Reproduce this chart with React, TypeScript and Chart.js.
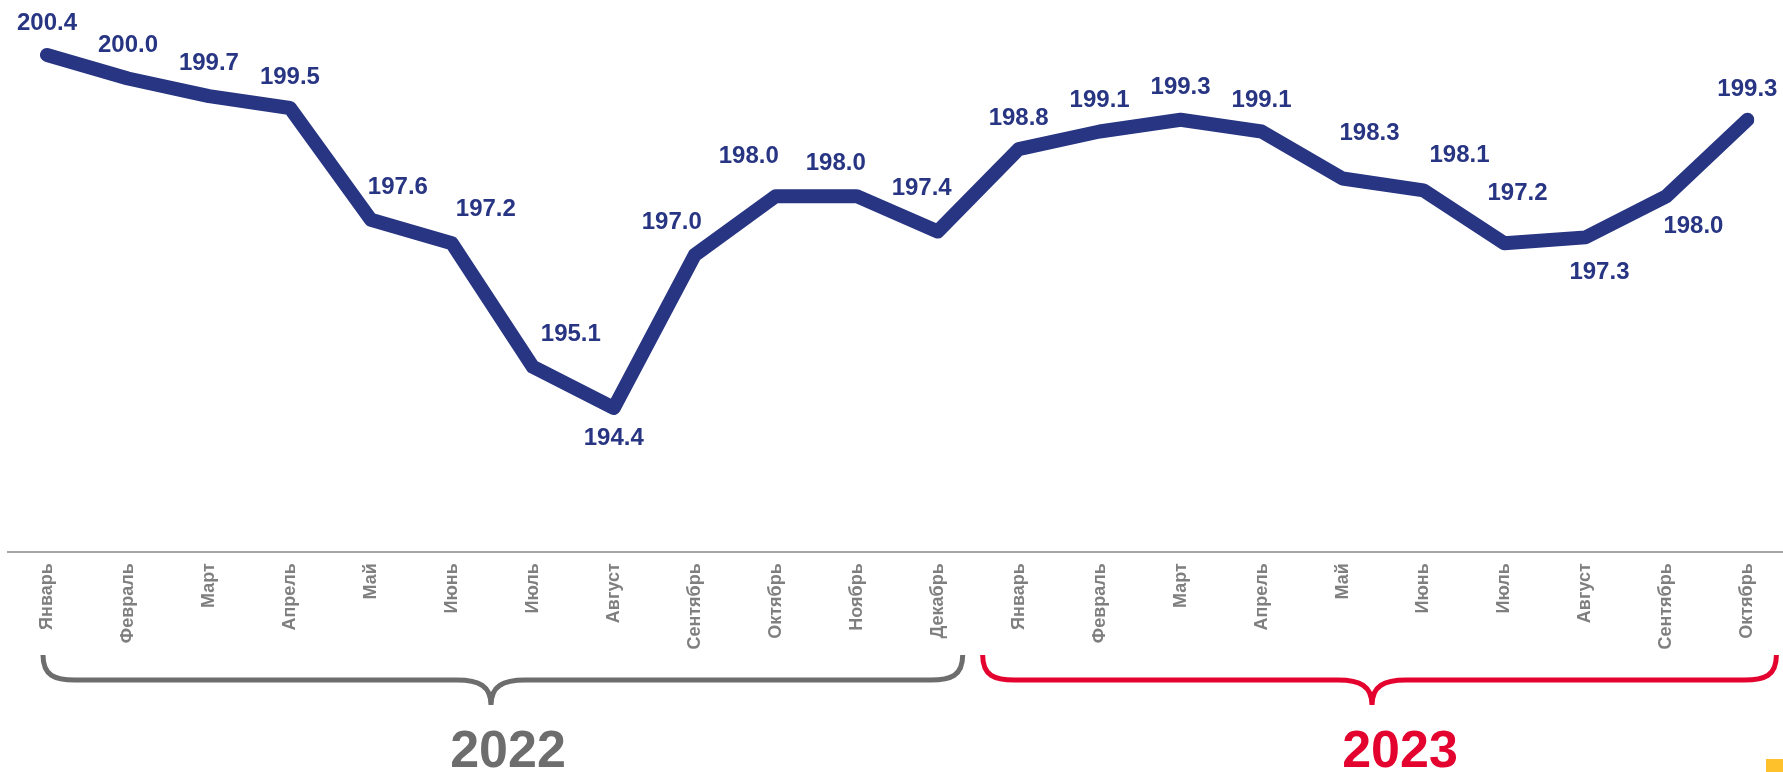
import React, { useEffect, useRef } from "react";
import { Chart, registerables } from "chart.js";

Chart.register(...registerables);

const months = [
  "Январь", "Февраль", "Март", "Апрель", "Май", "Июнь", "Июль", "Август",
  "Сентябрь", "Октябрь", "Ноябрь", "Декабрь",
  "Январь", "Февраль", "Март", "Апрель", "Май", "Июнь", "Июль", "Август",
  "Сентябрь", "Октябрь",
];
const values = [
  200.4, 200.0, 199.7, 199.5, 197.6, 197.2, 195.1, 194.4, 197.0, 198.0, 198.0, 197.4,
  198.8, 199.1, 199.3, 199.1, 198.3, 198.1, 197.2, 197.3, 198.0, 199.3,
];
const years = ["2022", "2023"];
const yearColors = ["#6d6d6d", "#e4032e"];

// label placement relative to each point (layout only)
const labelDx = [0, 0, 0, 0, 27, 34, 38, 0, -23, -27, -21, -16, 0, 0, 0, 0, 27, 36, 13, 14, 27, 0];
const labelDy = [-32, -33, -33, -31, -32, -34, -32, 30, -33, -40, -33, -43, -31, -31, -32, -31, -45, -35, -50, 35, 30, -30];

const NAVY = "#283583";
const FONT = "'Liberation Sans', Arial, sans-serif";

function drawBrace(ctx: CanvasRenderingContext2D, x1: number, x2: number, xm: number, color: string) {
  const yTop = 655;
  const yMid = 680;
  const yTip = 705;
  ctx.save();
  ctx.strokeStyle = color;
  ctx.lineWidth = 5;
  ctx.lineCap = "butt";
  ctx.lineJoin = "round";
  ctx.beginPath();
  ctx.moveTo(x1, yTop);
  ctx.bezierCurveTo(x1, yMid - 4, x1 + 12, yMid, x1 + 32, yMid);
  ctx.lineTo(xm - 34, yMid);
  ctx.bezierCurveTo(xm - 12, yMid, xm, yMid + 6, xm, yTip);
  ctx.moveTo(xm, yTip);
  ctx.bezierCurveTo(xm, yMid + 6, xm + 12, yMid, xm + 34, yMid);
  ctx.lineTo(x2 - 32, yMid);
  ctx.bezierCurveTo(x2 - 12, yMid, x2, yMid - 4, x2, yTop);
  ctx.stroke();
  ctx.restore();
}

const decorPlugin = {
  id: "decor",
  afterDraw(chart: any) {
    const ctx: CanvasRenderingContext2D = chart.ctx;
    const xs = chart.scales.x;
    // axis line
    ctx.save();
    ctx.strokeStyle = "#a6a6a6";
    ctx.lineWidth = 2;
    ctx.beginPath();
    ctx.moveTo(7, 552);
    ctx.lineTo(chart.width, 552);
    ctx.stroke();
    ctx.restore();

    // data labels
    const meta = chart.getDatasetMeta(0);
    ctx.save();
    ctx.fillStyle = NAVY;
    ctx.font = `bold 24px ${FONT}`;
    ctx.textAlign = "center";
    ctx.textBaseline = "middle";
    meta.data.forEach((pt: any, i: number) => {
      ctx.fillText(values[i].toFixed(1), pt.x + labelDx[i], pt.y + labelDy[i]);
    });
    ctx.restore();

    // braces + year labels
    const x0a = xs.getPixelForValue(0);
    const x0b = xs.getPixelForValue(11);
    const x1a = xs.getPixelForValue(12);
    const x1b = xs.getPixelForValue(21);
    drawBrace(ctx, x0a - 4, x0b + 25, 491, yearColors[0]);
    drawBrace(ctx, x1a - 36, x1b + 29, 1372, yearColors[1]);

    ctx.save();
    ctx.font = `bold 52px ${FONT}`;
    ctx.textAlign = "center";
    ctx.textBaseline = "alphabetic";
    ctx.fillStyle = yearColors[0];
    ctx.fillText(years[0], 508, 767);
    ctx.fillStyle = yearColors[1];
    ctx.fillText(years[1], 1400, 767);
    ctx.restore();

    // small yellow corner mark
    ctx.save();
    ctx.fillStyle = "#ffc12b";
    ctx.fillRect(1766, 759, 17, 13);
    ctx.restore();
  },
};

export default function App() {
  const ref = useRef<HTMLCanvasElement | null>(null);
  useEffect(() => {
    if (!ref.current) return;
    const chart = new Chart(ref.current, {
      type: "line",
      data: {
        labels: months,
        datasets: [
          {
            data: values,
            borderColor: NAVY,
            backgroundColor: NAVY,
            borderWidth: 14,
            borderCapStyle: "round",
            borderJoinStyle: "round",
            pointRadius: 0,
            tension: 0,
            fill: false,
          },
        ],
      },
      options: {
        animation: false,
        responsive: false,
        devicePixelRatio: 1,
        layout: { padding: { left: 47, right: 35, top: 19.7, bottom: 0 } },
        plugins: { legend: { display: false }, tooltip: { enabled: false }, title: { display: false } },
        scales: {
          x: {
            type: "category",
            offset: false,
            grid: { display: false, drawTicks: false },
            border: { display: false },
            ticks: {
              autoSkip: false,
              minRotation: 90,
              maxRotation: 90,
              padding: 14,
              color: "#7f7f7f",
              font: { family: FONT, size: 18, weight: "bold" },
            },
            afterFit(scale: any) {
              scale.height = 772 - 549.2;
            },
          },
          y: {
            display: false,
            min: 192,
            max: 201,
          },
        },
      },
      plugins: [decorPlugin],
    } as any);
    return () => chart.destroy();
  }, []);
  return (
    <div style={{ position: "absolute", left: 0, top: 0, width: 1783, height: 772, background: "#fff" }}>
      <canvas ref={ref} width={1783} height={772} style={{ display: "block", width: 1783, height: 772 }} />
    </div>
  );
}
